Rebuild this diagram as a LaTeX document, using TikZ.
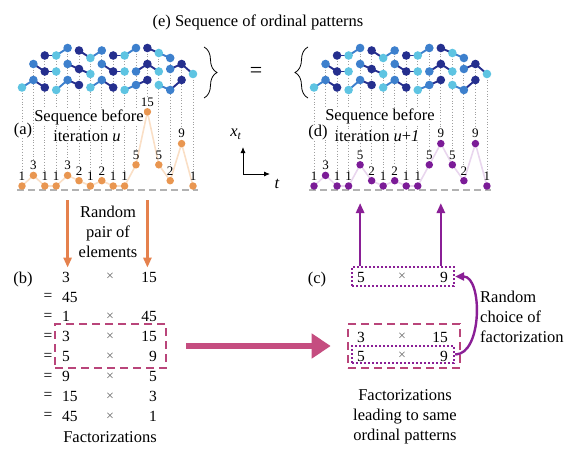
\documentclass[tikz,border=0pt]{standalone}
\usepackage{fontspec}
\setmainfont{Liberation Serif}
\usetikzlibrary{positioning,arrows.meta,decorations.pathreplacing}
\pgfdeclarelayer{bg}
\pgfsetlayers{bg,main}

\definecolor{seqorange}{HTML}{E99650}
\definecolor{seqpeach}{HTML}{FADFC6}
\definecolor{seqpurple}{HTML}{7B1B97}
\definecolor{seqlilac}{HTML}{E9D6EE}
\definecolor{patc0}{HTML}{5EC4E2}
\definecolor{patc1}{HTML}{3D80CD}
\definecolor{patc2}{HTML}{252F8E}
\colorlet{segc0}{patc1}
\colorlet{segc1}{patc2}
\colorlet{segc2}{patc2}
\definecolor{pickpink}{HTML}{B9457A}
\definecolor{movepink}{HTML}{C54D80}
\definecolor{pairorange}{HTML}{E5814D}
\definecolor{uppurple}{HTML}{8A1F96}

\tikzset{
  lbl/.style={font=\fontsize{16.5}{20}\selectfont, inner sep=0pt},
  numlab/.style={font=\fontsize{13}{13}\selectfont, inner sep=1pt},
  factor/.style={font=\fontsize{15.5}{15.5}\selectfont, inner sep=0pt},
  timesign/.style={font=\fontsize{14}{14}\selectfont, text=black!60, inner sep=0pt},
  seqdot/.style={circle, inner sep=0pt, minimum size=7.5pt},
  seqline/.style={line width=1.6pt},
  zeroline/.style={gray!60, line width=1.5pt, dash pattern=on 7pt off 4pt},
  guide/.style={gray!75, line width=0.8pt, dotted},
  patline/.style={line width=1.9pt},
  pickbox/.style={draw=pickpink, line width=2.6pt, dash pattern=on 8pt off 5pt, inner sep=0pt},
  samebox/.style={draw=uppurple, line width=2.4pt, dash pattern=on 2.4pt off 1.6pt, inner sep=0pt},
  pairarrow/.style={pairorange, line width=2.6pt, -{Triangle[length=10pt,width=8pt]}},
  uparrow/.style={uppurple, line width=2.6pt, -{Triangle[length=10pt,width=8pt]}},
  movearrow/.style={movepink, line width=6pt, -{Triangle[length=19pt,width=24pt]}},
  choicearrow/.style={uppurple, line width=2.4pt, -{Triangle[length=9pt,width=8pt]}},
  curly/.style={decorate, decoration={brace, amplitude=13pt}, line width=0.8pt},
}

\begin{document}
\begin{tikzpicture}[x=1pt,y=-1pt]
\useasboundingbox (0,0) rectangle (576,463);

% (e) ordinal patterns
\node[lbl] (title) at (258,22) {(e) Sequence of ordinal patterns};
\foreach \xo/\dx in {22/11.4,314/11.53}{
  \foreach \s/\ra/\rb/\rc in {0/1.5/3/1.5, 1/3/1.5/1.5, 2/1.5/1.5/3, 3/1/3/2, 4/3/2/1,
      5/2.5/1/2.5, 6/1.5/3/1.5, 7/3/1.5/1.5, 8/1.5/1.5/3, 9/1/2/3, 10/1.5/3/1.5,
      11/3/2/1, 12/2/1/3, 13/2/3/1}{
    \pgfmathtruncatemacro\ca{mod(\s,3)}
    \pgfmathtruncatemacro\cb{mod(\s+1,3)}
    \pgfmathtruncatemacro\cc{mod(\s+2,3)}
    \pgfmathsetmacro\yo{90-16*\ca}
    \coordinate (q0) at ({\xo+\dx*\s},{\yo-5*(\ra-1)});
    \coordinate (q1) at ({\xo+\dx*(\s+1)},{\yo-5*(\rb-1)});
    \coordinate (q2) at ({\xo+\dx*(\s+2)},{\yo-5*(\rc-1)});
    \draw[patline, draw=segc\ca] (q0) -- (q1);
    \draw[patline, draw=segc\cb] (q1) -- (q2);
    \fill[fill=patc\ca] (q0) circle[radius=4.3pt];
    \fill[fill=patc\cb] (q1) circle[radius=4.3pt];
    \fill[fill=patc\cc] (q2) circle[radius=4.3pt];
  }
}
\draw[curly] (204,47) -- (204,98);
\node[lbl, font=\fontsize{22}{22}\selectfont] (eq) at (256,72) {=};
\draw[curly] (308,98) -- (308,47);

% (a) sequence before iteration u
\coordinate (basea) at (0,190);
\foreach \v [count=\i from 0] in {1,3,1,1,3,2,1,2,1,1,5,15,5,2,9,1}
  \coordinate (pa\i) at ({22+11.4*\i},{186-5.3*(\v-1)});
\draw[seqline, seqpeach] (pa0) \foreach \i in {1,...,15}{ -- (pa\i)};
\draw[zeroline] (17,190) -- (198,190);
\foreach \v [count=\i from 0] in {1,3,1,1,3,2,1,2,1,1,5,15,5,2,9,1}{
  \node[seqdot, fill=seqorange] (da\i) at (pa\i) {};
  \node[numlab, above=0.5pt of da\i] (la\i) {\v};
}
\node[lbl, fill=white] (tagA) at (23,131) {(a)};
\node[lbl, fill=white] (seqA1) at (89,117) {Sequence before};
\node[lbl, fill=white] (seqA2) at (87,136) {iteration \textit{u}};

% (d) sequence before iteration u+1
\coordinate (based) at (0,190);
\foreach \v [count=\i from 0] in {1,3,1,1,5,2,1,2,1,1,5,9,5,2,9,1}
  \coordinate (pd\i) at ({314+11.53*\i},{186-5.3*(\v-1)});
\draw[seqline, seqlilac] (pd0) \foreach \i in {1,...,15}{ -- (pd\i)};
\draw[zeroline] (309,190) -- (491,190);
\foreach \v [count=\i from 0] in {1,3,1,1,5,2,1,2,1,1,5,9,5,2,9,1}{
  \node[seqdot, fill=seqpurple] (dd\i) at (pd\i) {};
  \node[numlab, above=0.5pt of dd\i] (ld\i) {\v};
}
\node[lbl, fill=white] (tagD) at (318,133) {(d)};
\node[lbl, fill=white] (seqD1) at (380,116) {Sequence before};
\node[lbl, fill=white] (seqD2) at (377,136) {iteration \textit{u}+\textit{1}};

% dotted guides, behind
\begin{pgfonlayer}{bg}
\foreach \yt [count=\i from 0] in {87.5,64,55.5,55.5,48,50.5,58,50.5,55.5,55.5,48,48,53,58,64,74}{
  \draw[guide] (da\i |- 0,\yt) -- (la\i.north);
  \draw[guide] (dd\i |- 0,\yt) -- (ld\i.north);
}
\end{pgfonlayer}

% axes
\coordinate (orig) at (243,174);
\draw[-{Latex[length=6pt,width=5pt]}, line width=0.9pt] (orig) -- (243,147);
\draw[-{Latex[length=6pt,width=5pt]}, line width=0.9pt] (orig) -- (270,174);
\node[lbl] (xlab) at (236,134) {\textit{x}\textsubscript{\textit{t}}};
\node[lbl] (tlab) at (277,184) {\textit{t}};

% (b) factorizations
\node[lbl] (tagB) at (23,280) {(b)};
\node[factor, anchor=west] (fl0) at (62,277) {3};
\node[timesign] (fx0) at (110,277) {×};
\node[factor, anchor=east] (fr0) at (157,277) {15};
\node[factor] (fe1) at (48,297) {=};
\node[factor, anchor=west] (fl1) at (62,297) {45};
\foreach \p/\q [count=\k from 2] in {1/45,3/15,5/9,9/5,15/3,45/1}{
  \pgfmathsetmacro\yk{277+19.9*\k}
  \node[factor] (fe\k) at (48,\yk) {=};
  \node[factor, anchor=west] (fl\k) at (62,\yk) {\p};
  \node[timesign] (fx\k) at (110,\yk) {×};
  \node[factor, anchor=east] (fr\k) at (157,\yk) {\q};
}
\node[lbl] (factxt) at (110,437) {Factorizations};
\node[pickbox, minimum width=111pt, minimum height=44pt] (boxl) at (110.5,346) {};

\node[lbl, align=center] (pairtxt) at (108,232) {Random\\pair of\\elements};
\draw[pairarrow, shorten <=10pt, shorten >=4pt] (da4 |- basea) -- (da4 |- fl0.north);
\draw[pairarrow, shorten <=10pt, shorten >=4pt] (da11 |- basea) -- (da11 |- fr0.north);

% (c) choice
\node[lbl] (tagC) at (317,280) {(c)};
\node[samebox, minimum width=102pt, minimum height=19pt] (boxc) at (403,276.5) {};
\node[factor, anchor=west] (hl) at (357,277) {5};
\node[timesign] (hx) at (402,277) {×};
\node[factor, anchor=east] (hr) at (448,277) {9};

\node[pickbox, minimum width=112pt, minimum height=44pt] (boxr) at (404,346) {};
\node[factor, anchor=west] (gl0) at (357,337) {3};
\node[timesign] (gx0) at (402,337) {×};
\node[factor, anchor=east] (gr0) at (448,337) {15};
\node[samebox, minimum width=102pt, minimum height=17pt] (boxs) at (403,354.5) {};
\node[factor, anchor=west] (gl1) at (357,356) {5};
\node[timesign] (gx1) at (402,356) {×};
\node[factor, anchor=east] (gr1) at (448,356) {9};

\draw[movearrow, shorten <=19pt, shorten >=16pt] (boxl.east) -- (boxr.west);
\draw[uparrow, shorten >=13pt] (dd4 |- boxc.north) -- (dd4 |- based);
\draw[uparrow, shorten >=13pt] (dd11 |- boxc.north) -- (dd11 |- based);
\draw[choicearrow] (boxs.east) to[out=0,in=0,looseness=0.9] (boxc.east);

\node[lbl, align=left, anchor=west] (choicetxt) at (480,317) {Random\\choice of\\factorization};
\node[lbl, align=center] (sametxt) at (405,417) {Factorizations\\leading to same\\ordinal patterns};

\end{tikzpicture}
\end{document}
